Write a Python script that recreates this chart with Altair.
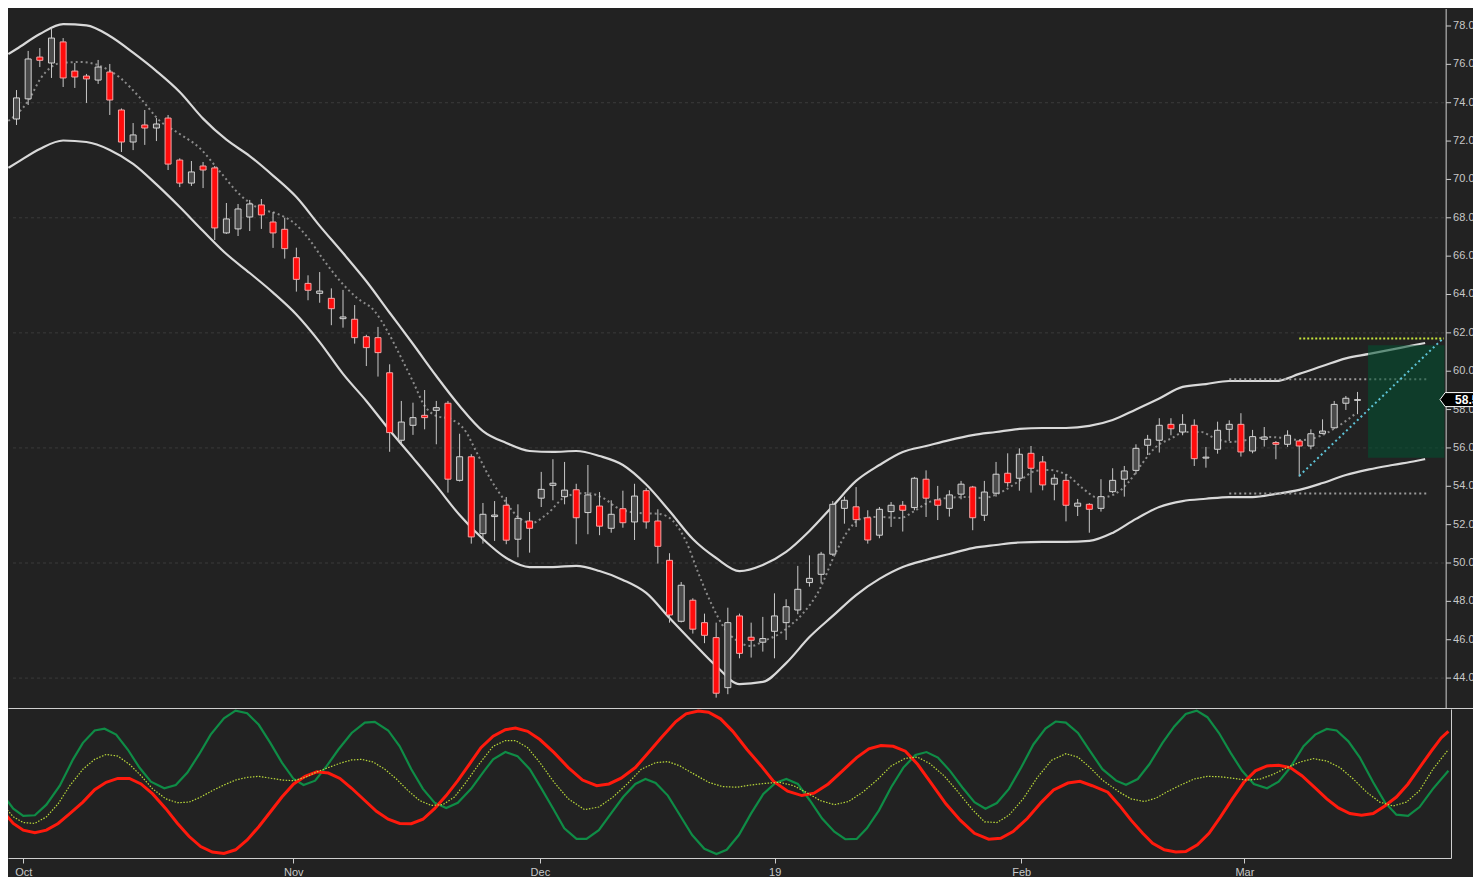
import altair as alt
import pandas as pd

# ---------------- data ----------------
cdl_idx = list(range(-1, 115))
cdl_open = [73.15,74.20,76.38,76.07,77.17,75.65,75.39,75.18,75.60,73.62,71.95,
            72.84,72.68,73.20,71.01,69.81,70.70,70.60,67.21,67.42,68.04,
            68.67,67.78,67.40,65.92,64.58,64.06,63.80,62.74,62.71,61.80,
            61.75,59.92,56.40,57.18,57.70,57.96,58.33,54.31,55.54,51.53,
            52.42,53.01,51.24,52.19,53.38,54.05,53.46,53.82,52.63,52.97,
            51.81,52.83,52.14,53.77,52.19,50.14,46.96,48.06,46.89,46.11,
            43.50,47.24,46.13,45.87,46.44,46.89,47.55,48.98,49.41,50.46,
            52.85,52.93,52.36,51.45,52.68,53.01,52.89,54.37,53.29,52.85,
            53.59,53.96,52.49,53.64,54.68,54.42,55.72,55.27,54.11,54.31,
            52.96,53.06,52.85,53.72,54.37,54.83,56.14,56.40,57.23,56.83,
            57.18,55.47,55.93,56.97,57.23,55.84,56.45,56.28,56.19,56.36,
            56.10,56.76,57.05,58.33,58.48]
cdl_high = [74.66,76.70,76.85,77.84,77.37,76.07,75.50,76.23,76.02,73.70,72.94,
            73.62,73.20,73.36,71.10,70.96,70.91,70.70,68.77,68.72,68.93,
            68.98,68.30,68.00,66.44,65.00,65.17,64.32,64.24,63.45,61.90,
            62.31,60.36,58.45,58.36,59.02,58.45,58.45,56.74,55.67,53.13,
            53.23,53.44,53.06,52.66,54.75,55.41,55.27,54.13,55.11,53.70,
            53.27,53.77,54.13,53.90,52.80,50.51,49.01,48.16,47.36,46.89,
            47.67,47.36,46.89,47.19,48.42,48.11,49.85,50.40,50.58,53.23,
            53.46,53.96,52.75,52.92,53.18,53.23,54.49,54.83,54.02,53.79,
            54.28,54.02,54.28,55.27,55.72,55.98,56.10,55.58,54.63,54.63,
            53.34,53.12,54.37,54.94,55.06,56.19,56.68,57.55,57.55,57.76,
            57.49,56.05,57.37,57.44,57.81,56.94,57.09,56.36,56.92,56.41,
            56.97,57.49,58.45,58.71,58.92]
cdl_low = [72.84,73.88,75.86,75.29,74.82,74.77,73.99,74.98,73.36,71.43,71.53,
           71.80,72.00,70.49,69.60,69.66,69.55,66.84,67.16,67.05,67.31,
           67.42,66.43,65.87,64.15,63.70,63.57,62.40,62.27,61.44,60.27,
           59.72,55.80,56.19,56.68,56.97,56.19,53.67,54.25,51.01,51.01,
           51.15,50.98,50.30,50.54,52.92,53.27,53.06,50.98,51.50,51.45,
           51.58,51.84,51.20,51.79,49.97,46.89,46.90,46.32,45.82,42.98,
           43.16,45.03,45.07,45.38,45.03,45.99,47.33,48.77,48.94,50.37,
           52.05,51.88,51.01,51.29,51.88,51.64,52.75,52.40,52.24,52.42,
           53.32,51.71,52.19,53.46,53.98,53.77,53.67,53.79,53.27,52.17,
           52.45,51.58,52.68,53.64,53.46,54.63,55.63,55.76,56.66,56.66,
           55.06,54.97,55.70,56.36,55.55,55.72,56.07,55.41,56.05,54.50,
           55.93,56.71,57.00,57.98,57.76]
cdl_close = [74.25,76.28,76.21,77.37,75.29,75.34,75.24,75.86,74.14,71.95,72.32,
             72.68,72.89,70.80,69.81,70.39,70.49,67.47,67.94,68.46,68.72,
             68.15,67.21,66.39,64.79,64.22,64.18,63.26,62.83,61.75,61.23,
             60.97,56.80,57.35,57.58,57.58,58.10,54.37,55.54,51.36,52.54,
             52.50,51.19,52.33,51.81,53.84,54.16,53.80,52.36,53.55,51.92,
             52.54,52.10,53.49,52.14,50.87,47.29,48.84,46.55,46.23,43.21,
             46.89,45.29,45.97,46.06,47.24,47.72,48.63,49.20,50.46,53.06,
             53.27,52.26,51.20,52.80,53.01,52.75,54.42,53.38,53.01,53.55,
             54.11,52.36,53.70,54.63,54.19,55.67,54.94,54.07,54.42,53.01,
             53.12,52.80,53.46,54.31,54.80,55.98,56.45,57.18,57.00,57.23,
             55.44,55.52,56.92,57.23,55.79,56.59,56.57,56.19,56.66,56.10,
             56.74,56.88,58.27,58.59,58.52]

band_idx = [-1.7, -1] + list(range(1, 120, 2)) + [119.8]
band_upper = [76.54,76.80,
              77.58,78.10,78.03,77.48,76.61,75.65,74.56,73.17,72.07,71.22,
              70.20,69.08,67.58,66.16,64.69,63.05,61.42,59.75,58.19,56.88,
              56.26,55.84,55.79,55.84,55.58,55.11,54.09,52.71,51.25,50.26,
              49.58,49.90,50.58,51.67,52.97,54.28,55.11,55.79,56.10,56.41,
              56.67,56.83,56.99,57.04,57.04,57.15,57.46,58.01,58.58,59.18,
              59.33,59.49,59.49,59.49,59.86,60.27,60.67,60.90,61.14,61.38,
              61.47]
band_lower = [70.60,70.86,
              71.59,72.03,71.95,71.54,70.81,69.74,68.56,67.31,66.11,65.12,
              64.10,62.96,61.52,59.86,58.45,56.92,55.48,54.02,52.50,51.25,
              50.26,49.79,49.79,49.85,49.58,49.12,48.44,47.13,45.86,44.63,
              43.69,43.80,44.78,46.14,47.24,48.33,49.17,49.79,50.16,50.47,
              50.78,50.94,51.07,51.10,51.10,51.15,51.57,52.30,52.92,53.23,
              53.35,53.44,53.44,53.60,53.81,54.17,54.59,54.88,55.11,55.32,
              55.42]

ma_idx = [-1.7,0,1.1,2.8,4.5,6.2,7.9,9.6,11.3,13.0,14.7,16.4,18.1,19.7,21.4,
          22.9,24.0,25.4,26.9,28.2,29.7,30.8,32.0,33.1,33.9,35.0,36.2,37.5,
          38.4,39.6,40.9,42.1,43.2,44.5,46.2,47.9,49.3,50.7,52.4,54.1,55.3,
          56.4,57.5,58.6,59.7,60.8,62.0,63.1,64.4,65.3,66.4,67.8,69.2,70.3,
          71.4,72.9,74.8,76.0,77.1,78.8,80.5,81.9,83.3,85.0,86.4,87.5,89.2,
          90.4,91.8,93.2,94.3,95.5,96.6,98.1,99.2,100.6,101.7,103.1,104.5,
          106.5,107.6,109.1,110.8,112.1,113.9]
ma_val = [73.05,74.09,75.29,76.07,76.12,75.91,75.29,74.25,73.05,72.37,71.64,
          70.44,69.24,68.51,68.20,67.68,66.95,65.75,64.60,63.82,63.14,62.10,
          60.69,59.33,58.29,57.67,57.51,56.88,55.84,54.43,53.23,52.35,52.09,
          52.56,53.50,53.65,53.39,52.82,52.61,52.56,52.19,51.15,49.43,47.86,
          46.61,45.94,45.67,45.94,46.30,46.72,47.34,48.54,50.47,51.67,52.30,
          52.40,52.35,52.71,53.13,53.39,53.44,53.39,53.65,54.28,54.80,54.85,
          54.54,53.91,53.39,53.60,54.17,55.16,55.99,56.52,56.83,56.83,56.52,
          56.31,56.41,56.57,56.52,56.41,56.62,57.04,57.82]

green_idx = [-1.69,-0.85,0,0.99,1.97,3.11,4.24,5.08,6.08,6.92,
             7.91,8.90,9.89,10.87,12.01,12.99,13.98,14.97,15.96,17.09,
             18.08,19.07,20.06,21.04,22.03,23.03,23.87,24.86,25.85,26.84,
             27.97,29.09,29.94,31.08,32.06,33.05,34.04,35.03,36.02,37.01,
             38.14,39.26,40.02,41.06,42.09,43.14,44.15,45.21,46.08,47.12,
             47.97,49.02,50.05,51.09,52.13,52.99,53.86,54.90,55.93,56.97,
             58.01,59.04,59.91,60.95,61.98,63.03,64.06,64.99,65.97,67.0,
             68.04,69.08,70.01,70.98,71.85,72.88,73.92,74.96,75.99,76.93,
             77.90,78.93,79.97,81.01,81.95,82.92,83.95,84.99,86.03,87.06,
             87.93,88.80,89.83,90.86,91.91,93.08,93.92,94.92,95.91,97.03,
             98.03,99.01,99.94,100.85,101.84,102.82,103.81,104.81,105.93,106.92,
             107.91,109.04,110.03,111.02,111.86,112.86,113.84,114.97,115.96,116.95,
             117.94,118.92,120.06,121.38]
green_val = [41.9,33.1,28.3,28.7,35.8,48.5,66.2,77.3,85.6,86.8,
             82.8,72.8,60.7,51.2,46.8,49.0,57.4,69.5,82.8,93.8,
             98.9,97.2,89.4,77.3,64.0,53.0,49.0,51.9,61.8,72.8,
             83.9,90.9,91.4,85.6,75.0,59.6,46.4,37.1,33.6,37.1,
             46.4,58.5,66.2,71.1,68.4,59.6,46.4,32.0,19.9,12.8,
             12.8,18.7,29.8,40.9,49.7,53.0,50.3,41.9,28.7,15.4,
             6.2,2.6,5.5,15.4,29.8,43.0,50.3,53.0,49.7,38.6,
             26.5,17.7,12.6,12.8,19.9,32.0,47.5,60.7,69.1,71.1,
             67.4,58.5,47.5,37.5,33.1,36.9,46.4,60.7,76.2,86.8,
             91.6,90.9,83.9,71.7,59.6,51.9,49.2,53.0,62.9,77.3,
             88.3,96.7,98.9,94.5,83.9,70.7,58.5,49.7,46.8,51.2,
             60.7,75.0,82.8,86.6,85.6,78.3,67.4,50.8,37.5,29.1,
             28.3,34.2,46.4,58.5]

red_idx = [-1.69,-0.85,0,0.99,1.97,2.97,3.96,5.08,6.08,7.06,
           8.05,9.04,10.03,11.02,12.14,13.14,14.13,15.11,16.10,17.09,
           18.08,19.07,20.06,21.04,22.03,23.03,24.01,25.0,25.99,26.97,
           27.97,29.09,30.08,31.08,32.06,33.05,34.04,35.03,36.02,37.01,
           37.99,38.98,40.02,41.06,41.92,42.96,44.0,45.21,46.42,47.63,
           48.84,49.88,50.92,52.13,53.16,54.37,55.58,56.45,57.49,58.36,
           59.39,60.43,61.64,62.85,63.89,65.10,66.31,67.35,68.56,69.77,
           70.98,72.02,73.05,74.09,75.13,76.17,77.37,78.58,79.80,81.01,
           82.22,83.25,84.30,85.51,86.72,87.75,88.97,90.0,91.04,92.37,
           93.36,94.35,95.34,96.19,97.18,98.16,99.01,100.0,100.99,101.97,
           102.97,103.96,104.94,105.93,106.92,107.91,108.90,109.89,111.02,112.01,
           112.99,113.98,114.97,115.96,116.95,117.94,118.92,119.92,120.76,121.38]
red_val = [30.9,23.2,18.7,17.0,18.7,23.2,29.8,37.5,45.9,50.8,
           53.4,53.4,49.7,43.0,33.1,23.2,14.4,7.7,4.0,3.1,
           5.5,12.1,21.0,30.9,40.9,49.7,54.8,57.8,57.0,53.4,
           46.8,38.6,31.3,26.0,23.2,23.0,26.0,33.1,41.9,51.9,
           62.9,74.0,81.7,86.1,87.2,85.0,79.5,70.7,60.7,52.3,
           48.5,49.7,53.6,60.7,70.0,81.0,91.6,96.7,98.7,97.8,
           93.4,85.0,72.8,61.8,51.5,44.8,41.9,43.5,49.7,58.5,
           67.4,73.3,75.5,75.0,71.7,62.9,49.7,36.4,25.4,16.6,
           12.6,13.2,17.7,26.5,37.5,45.7,50.3,51.5,48.5,44.2,
           35.3,25.4,16.6,9.9,5.5,4.0,4.4,8.8,16.6,27.6,
           39.7,50.8,58.5,61.8,62.3,60.7,55.2,48.1,39.7,33.6,
           29.8,28.7,29.8,34.9,40.9,49.7,60.7,71.7,80.6,85.0]

yellow_idx = [-1.69,-0.85,0,0.99,1.97,2.97,3.96,5.08,6.08,7.06,
              8.05,9.04,10.03,11.02,12.14,13.14,14.13,15.11,16.10,17.09,
              18.08,19.07,20.06,21.04,22.03,23.03,24.01,25.0,25.99,26.97,
              27.97,28.81,29.80,30.79,31.78,32.77,33.75,34.75,35.74,36.72,
              37.71,38.70,40.02,41.06,41.92,42.96,44.0,45.21,46.42,47.80,
              49.02,50.23,51.44,52.64,53.86,54.90,55.93,57.14,58.36,59.57,
              60.77,61.98,63.19,64.41,65.62,66.65,67.86,69.08,70.29,71.50,
              72.71,73.92,75.13,76.17,77.20,78.42,79.63,80.84,81.87,82.92,
              83.95,85.16,86.37,87.58,88.80,89.83,90.86,91.91,93.36,94.35,
              95.48,96.47,97.46,98.58,99.72,100.85,101.97,103.11,104.24,105.36,
              106.50,107.63,108.75,109.89,111.02,112.14,113.28,114.41,115.53,116.67,
              117.80,118.92,120.06,121.38]
yellow_val = [35.3,27.6,23.8,23.2,27.6,36.4,48.5,59.6,66.2,69.5,
              68.4,62.9,55.2,46.4,39.7,37.1,37.5,40.9,45.2,49.0,
              52.3,54.1,54.8,53.6,52.3,51.9,54.1,57.8,60.7,63.6,
              65.8,66.2,64.4,59.6,53.0,45.2,38.6,35.3,35.8,40.9,
              50.8,61.8,75.0,78.8,78.8,74.0,64.0,50.8,39.7,32.5,
              34.2,40.9,49.7,59.6,64.0,64.7,61.8,56.3,50.8,47.9,
              47.5,49.0,50.1,50.8,48.5,44.2,38.6,35.8,37.9,44.2,
              52.3,61.8,66.9,67.7,63.4,55.2,44.2,32.5,24.3,23.8,
              28.7,39.7,54.1,65.6,70.0,67.7,60.7,52.3,44.2,39.7,
              37.9,40.2,44.6,49.0,53.0,54.8,54.5,53.4,52.3,53.0,
              56.3,60.7,64.4,66.7,65.1,60.7,53.0,44.2,37.5,34.9,
              37.5,45.2,59.6,72.8]

month_ticks = [0, 23, 44, 64, 85, 104]
month_labels = ["Oct", "Nov", "Dec", "19", "Feb", "Mar"]
price_ticks = [44, 46, 48, 50, 52, 54, 56, 58, 60, 62, 64, 66, 68, 70, 72, 74, 76, 78]
grid_levels = [44, 50, 56, 62, 68, 74]

# drawing overlays (values in chart units)
zone_x = [114.9, 121.45]
zone_y = [55.49, 61.35]
range_levels = [59.58, 53.62]
range_x = [103.0, 119.9]
target_level = [61.70]
target_x = [109.0, 121.4]
trend_x = [109.0, 121.4]
trend_y = [54.54, 61.75]
last_price = 58.52

# ---------------- layout ----------------
W_BOT = 1443          # plot width (up to the price axis)
W_TOP = 1465          # upper panel runs to the window edge (price labels get cut there)
H_TOP = 699
H_BOT = 149
X_DOM = [-1.3, 121.6]
PX = W_BOT / (X_DOM[1] - X_DOM[0])
X_TOP_MAX = X_DOM[1] + (W_TOP - W_BOT) / PX
AXIS_X = X_DOM[1]
Y_DOM = [42.44, 78.886]

AX = "#cfcfcf"
LBL = "#c8c8c8"
FONT = "Liberation Sans"

xs_top = alt.Scale(domain=[X_DOM[0], X_TOP_MAX], nice=False, zero=False)
xs_bot = alt.Scale(domain=X_DOM, nice=False, zero=False)
ys = alt.Scale(domain=Y_DOM, nice=False, zero=False)

x_axis_top = alt.Axis(labels=False, ticks=False, domain=True, domainColor=AX,
                      grid=False, title=None)

cdf = pd.DataFrame({"i": cdl_idx, "o": cdl_open, "h": cdl_high, "l": cdl_low, "c": cdl_close})
cdf["dir"] = ["up" if c >= o else "down" for o, c in zip(cdf["o"], cdf["c"])]

bdf = pd.DataFrame({"i": band_idx, "u": band_upper, "lo": band_lower})
mdf = pd.DataFrame({"i": ma_idx, "v": ma_val})

gdf_grid = pd.DataFrame({"g": grid_levels, "x0": [X_DOM[0]] * len(grid_levels),
                         "x1": [AXIS_X] * len(grid_levels)})
grid = alt.Chart(gdf_grid).mark_rule(color="#3a3a3a", strokeDash=[3, 3], strokeWidth=1).encode(
    x=alt.X("x0:Q", scale=xs_top, axis=x_axis_top), x2="x1:Q",
    y=alt.Y("g:Q", scale=ys, axis=None))

# price axis (drawn inside the panel so that it is cut at the window edge like the original)
axis_line = alt.Chart(pd.DataFrame({"x": [AXIS_X]})).mark_rule(color=AX, strokeWidth=1).encode(
    x=alt.X("x:Q", scale=xs_top))
tick_df = pd.DataFrame({"y": price_ticks, "x0": [AXIS_X] * len(price_ticks),
                        "x1": [AXIS_X + 5 / PX] * len(price_ticks),
                        "t": [f"{p:.2f}" for p in price_ticks],
                        "xl": [AXIS_X + 7 / PX] * len(price_ticks)})
axis_ticks = alt.Chart(tick_df).mark_rule(color=AX, strokeWidth=1, clip=True).encode(
    x=alt.X("x0:Q", scale=xs_top), x2="x1:Q", y=alt.Y("y:Q", scale=ys, axis=None))
axis_labels = alt.Chart(tick_df).mark_text(align="left", baseline="middle", color=LBL,
                                           fontSize=11, font=FONT, clip=True).encode(
    x=alt.X("xl:Q", scale=xs_top), y=alt.Y("y:Q", scale=ys, axis=None), text="t:N")

band_u = alt.Chart(bdf).mark_line(color="#d9d9d9", strokeWidth=2.2, interpolate="monotone", clip=True).encode(
    x=alt.X("i:Q", scale=xs_top), y=alt.Y("u:Q", scale=ys, axis=None))
band_l = alt.Chart(bdf).mark_line(color="#d9d9d9", strokeWidth=2.2, interpolate="monotone", clip=True).encode(
    x=alt.X("i:Q", scale=xs_top), y=alt.Y("lo:Q", scale=ys, axis=None))
ma = alt.Chart(mdf).mark_line(color="#8a8a8a", strokeWidth=2, strokeDash=[2, 3],
                              interpolate="monotone", clip=True).encode(
    x=alt.X("i:Q", scale=xs_top), y=alt.Y("v:Q", scale=ys, axis=None))

wick = alt.Chart(cdf).mark_rule(color="#c8c8c8", strokeWidth=1, clip=True).encode(
    x=alt.X("i:Q", scale=xs_top), y=alt.Y("l:Q", scale=ys, axis=None), y2="h:Q")
body = alt.Chart(cdf).mark_bar(size=6, strokeWidth=1, clip=True).encode(
    x=alt.X("i:Q", scale=xs_top), y=alt.Y("o:Q", scale=ys, axis=None), y2="c:Q",
    fill=alt.Fill("dir:N", scale=alt.Scale(domain=["up", "down"], range=["#4a4a4a", "#ff0c0c"]), legend=None),
    stroke=alt.Stroke("dir:N", scale=alt.Scale(domain=["up", "down"], range=["#d4d4d4", "#f2a6a6"]), legend=None))

rdf = pd.DataFrame({"y": range_levels, "x0": [range_x[0]] * 2, "x1": [range_x[1]] * 2})
ranges = alt.Chart(rdf).mark_rule(color="#9a9a9a", strokeWidth=2, strokeDash=[2, 3]).encode(
    x=alt.X("x0:Q", scale=xs_top), x2="x1:Q", y=alt.Y("y:Q", scale=ys, axis=None))

zdf = pd.DataFrame({"x0": [zone_x[0]], "x1": [zone_x[1]], "y0": [zone_y[0]], "y1": [zone_y[1]]})
zone = alt.Chart(zdf).mark_rect(fill="#005232", opacity=0.55).encode(
    x=alt.X("x0:Q", scale=xs_top), x2="x1:Q", y=alt.Y("y0:Q", scale=ys, axis=None), y2="y1:Q")

tdf = pd.DataFrame({"x0": [trend_x[0]], "x1": [trend_x[1]], "y0": [trend_y[0]], "y1": [trend_y[1]]})
trend = alt.Chart(tdf).mark_rule(color="#5ec4d8", strokeWidth=2, strokeDash=[2, 3]).encode(
    x=alt.X("x0:Q", scale=xs_top), x2="x1:Q", y=alt.Y("y0:Q", scale=ys, axis=None), y2="y1:Q")

gdf = pd.DataFrame({"y": target_level, "x0": [target_x[0]], "x1": [target_x[1]]})
target = alt.Chart(gdf).mark_rule(color="#c5e23a", strokeWidth=2, strokeDash=[2, 2]).encode(
    x=alt.X("x0:Q", scale=xs_top), x2="x1:Q", y=alt.Y("y:Q", scale=ys, axis=None))

TAG = "M -1 0 L -0.8 -0.27 L 1 -0.27 L 1 0.27 L -0.8 0.27 Z"
pdf = pd.DataFrame({"p": [last_price], "t": [f"{last_price:.2f}"],
                    "xp": [AXIS_X + 20 / PX], "xt": [AXIS_X + 9 / PX]})
tag = alt.Chart(pdf).mark_point(shape=TAG, size=2704, filled=True, fill="#000000",
                                stroke="#ffffff", strokeWidth=1, opacity=1, clip=True).encode(
    x=alt.X("xp:Q", scale=xs_top), y=alt.Y("p:Q", scale=ys, axis=None))
tag_text = alt.Chart(pdf).mark_text(align="left", baseline="middle", color="#ffffff",
                                    fontSize=12, fontWeight="bold", font=FONT, clip=True).encode(
    x=alt.X("xt:Q", scale=xs_top), y=alt.Y("p:Q", scale=ys, axis=None), text="t:N")

top = alt.layer(grid, axis_line, axis_ticks, axis_labels, band_u, band_l, ma, wick, body,
                ranges, zone, trend, target, tag, tag_text).properties(width=W_TOP, height=H_TOP)

# ---------------- lower panel ----------------
label_expr = "".join(f"datum.value == {t} ? '{l}' : " for t, l in zip(month_ticks, month_labels)) + "''"
x_axis_bot = alt.Axis(values=month_ticks, labelExpr=label_expr, tickSize=5, tickColor=AX,
                      domainColor=AX, labelColor=LBL, labelFontSize=11, labelFont=FONT,
                      labelPadding=3, grid=False, title=None, labelFlush=False)
os_y = alt.Scale(domain=[0, 100], nice=False, zero=False)
y_axis_bot = alt.Axis(orient="right", labels=False, ticks=False, domain=True, domainColor=AX,
                      grid=False, title=None)

gr = pd.DataFrame(list(zip(green_idx, green_val)), columns=["i", "v"])
rd = pd.DataFrame(list(zip(red_idx, red_val)), columns=["i", "v"])
yl = pd.DataFrame(list(zip(yellow_idx, yellow_val)), columns=["i", "v"])

g_line = alt.Chart(gr).mark_line(color="#0f8c46", strokeWidth=2.2, clip=True).encode(
    x=alt.X("i:Q", scale=xs_bot, axis=x_axis_bot), y=alt.Y("v:Q", scale=os_y, axis=y_axis_bot))
r_line = alt.Chart(rd).mark_line(color="#ff1a0d", strokeWidth=3, clip=True).encode(
    x=alt.X("i:Q", scale=xs_bot), y=alt.Y("v:Q", scale=os_y))
y_line = alt.Chart(yl).mark_line(color="#b9d83a", strokeWidth=1.2, strokeDash=[1.5, 1.5], clip=True).encode(
    x=alt.X("i:Q", scale=xs_bot), y=alt.Y("v:Q", scale=os_y))

bottom = alt.layer(g_line, r_line, y_line).properties(width=W_BOT, height=H_BOT)

chart = alt.vconcat(top, bottom, spacing=0, padding=0, background="#222222").configure_view(
    stroke=None).configure_axis(labelFont=FONT)

chart.save("out.html", embed_options={"renderer": "svg", "actions": False})
